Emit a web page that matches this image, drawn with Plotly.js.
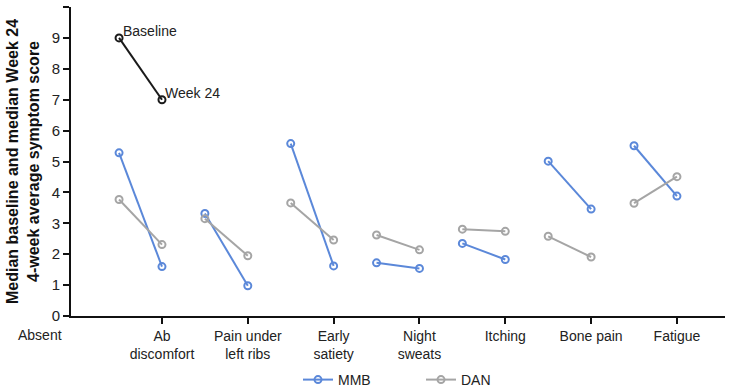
<!DOCTYPE html>
<html>
<head>
<meta charset="utf-8">
<script src="https://cdn.plot.ly/plotly-3.0.1.min.js"></script>
<style>
  html, body { margin: 0; padding: 0; background: #fff; }
  #chart { width: 729px; height: 388px; }
</style>
</head>
<body>
<div id="chart"></div>
<script>
// Symptom categories (Week 24 point sits on the tick, baseline half a step left)
const categories = ["Ab discomfort", "Pain under left ribs", "Early satiety", "Night sweats", "Itching", "Bone pain", "Fatigue"];
const tickLabels = ["Ab<br>discomfort", "Pain under<br>left ribs", "Early<br>satiety", "Night<br>sweats", "Itching", "Bone pain", "Fatigue"];

// Median 4-week average symptom scores
const mmbBaseline = [5.28, 3.32, 5.58, 1.72, 2.35, 5.01, 5.51];
const mmbWeek24   = [1.60, 0.98, 1.62, 1.54, 1.83, 3.46, 3.88];
const danBaseline = [3.77, 3.15, 3.66, 2.62, 2.81, 2.58, 3.65];
const danWeek24   = [2.31, 1.95, 2.46, 2.14, 2.74, 1.91, 4.51];

// Key example drawn in the first column
const keyLabels = ["Baseline", "Week 24"];
const keyValues = [9, 7];

const mmbColor = "#5b88d9";
const danColor = "#a5a5a5";

// Build baseline→Week 24 segments separated by gaps
function segments(base, wk) {
  const x = [], y = [];
  categories.forEach((c, i) => {
    x.push(i + 0.5, i + 1, null);
    y.push(base[i], wk[i], null);
  });
  return { x, y };
}

const mmb = segments(mmbBaseline, mmbWeek24);
const dan = segments(danBaseline, danWeek24);

const marker = (color) => ({
  symbol: "circle-open", size: 7, color: color, line: { width: 2, color: color }
});

const traces = [
  {
    type: "scatter", mode: "lines+markers", name: "MMB",
    x: mmb.x, y: mmb.y, connectgaps: false,
    line: { color: mmbColor, width: 2 }, marker: marker(mmbColor)
  },
  {
    type: "scatter", mode: "lines+markers", name: "DAN",
    x: dan.x, y: dan.y, connectgaps: false,
    line: { color: danColor, width: 2 }, marker: marker(danColor)
  },
  {
    type: "scatter", mode: "lines+markers", showlegend: false,
    x: [0.5, 1], y: keyValues,
    line: { color: "#1a1a1a", width: 2 }, marker: marker("#1a1a1a"),
    hoverinfo: "skip"
  }
];

const font = { family: "Liberation Sans, Arial, sans-serif", color: "#222" };
const plotW = 729 - 71 - 4;

const layout = {
  width: 729, height: 388,
  margin: { l: 71, r: 4, t: 7, b: 72, autoexpand: false },
  paper_bgcolor: "#fff", plot_bgcolor: "#fff",
  font: Object.assign({ size: 14 }, font),
  showlegend: true,
  legend: {
    orientation: "h",
    xref: "container", x: 298 / 729, xanchor: "left",
    yref: "container", y: 8 / 388, yanchor: "middle",
    font: Object.assign({ size: 14 }, font),
    entrywidth: 78, entrywidthmode: "pixels", tracegroupgap: 0
  },
  xaxis: {
    range: [-0.06, 7.56],
    automargin: false,
    tickmode: "array",
    tickvals: categories.map((c, i) => i + 1),
    ticktext: tickLabels,
    ticks: "outside", ticklen: 6, tickwidth: 2, tickcolor: "#111",
    ticklabelstandoff: 0,
    showline: true, linecolor: "#111", linewidth: 2,
    showgrid: false, zeroline: false,
    tickfont: Object.assign({ size: 14 }, font)
  },
  yaxis: {
    range: [0, 10],
    automargin: false,
    tickvals: [0, 1, 2, 3, 4, 5, 6, 7, 8, 9, 10],
    ticks: "outside", ticklen: 6, tickwidth: 2, tickcolor: "#111",
    showline: true, linecolor: "#111", linewidth: 2,
    showgrid: false, zeroline: false,
    tickfont: Object.assign({ size: 15 }, font),
    title: {
      text: "<b>Median baseline and median Week 24<br>4-week average symptom score</b>",
      font: Object.assign({ size: 16 }, font, { color: "#111" }),
      standoff: 8
    }
  },
  annotations: [
    {
      x: 0.5, y: keyValues[0], xref: "x", yref: "y", text: keyLabels[0],
      showarrow: false, xanchor: "left", yanchor: "bottom", xshift: 2, yshift: -3,
      font: Object.assign({ size: 14 }, font)
    },
    {
      x: 1, y: keyValues[1], xref: "x", yref: "y", text: keyLabels[1],
      showarrow: false, xanchor: "left", yanchor: "bottom", xshift: 1, yshift: -3,
      font: Object.assign({ size: 14 }, font)
    },
    {
      // "Absent" sits in the tick-label row, left of the plotting area
      x: (40 - 71) / plotW, xref: "paper", y: -0.03, yref: "paper", text: "Absent",
      showarrow: false, xanchor: "center", yanchor: "top",
      font: Object.assign({ size: 14 }, font)
    }
  ]
};

Plotly.newPlot("chart", traces, layout, { displayModeBar: false, staticPlot: true });
</script>
</body>
</html>
